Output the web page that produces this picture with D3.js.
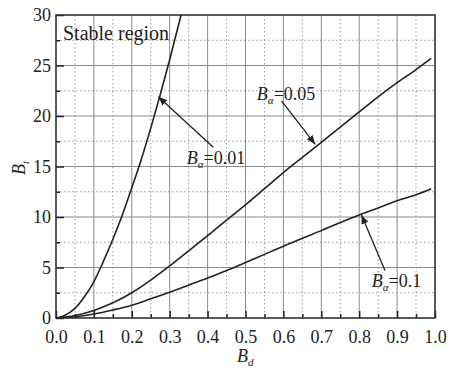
<!DOCTYPE html>
<html>
<head>
<meta charset="utf-8">
<script src="https://cdn.jsdelivr.net/npm/d3@7"></script>
<style>
  body { margin: 0; background: #fff; }
  svg text { font-family: "Liberation Serif", "Times New Roman", serif; fill: #222; }
</style>
</head>
<body>
<div id="chart"></div>
<script>
// B_d values and B_t curves
var bdA = [0, 0.02, 0.05, 0.075, 0.1, 0.125, 0.15, 0.175, 0.2, 0.225, 0.25, 0.275, 0.3, 0.33];
var btA = [0, 0.2, 0.95, 2.1, 3.6, 5.6, 7.8, 10.2, 12.9, 15.7, 18.8, 22.1, 25.6, 30];   // Ba = 0.01

var bdB = [0, 0.05, 0.1, 0.15, 0.2, 0.25, 0.3, 0.35, 0.4, 0.45, 0.5, 0.55, 0.6, 0.65, 0.7, 0.75, 0.8, 0.85, 0.9, 0.95, 0.99];
var btB = [0, 0.25, 0.75, 1.5, 2.5, 3.75, 5.15, 6.65, 8.15, 9.7, 11.2, 12.8, 14.4, 15.9, 17.4, 18.9, 20.4, 21.9, 23.3, 24.6, 25.7]; // Ba = 0.05

var bdC = bdB;
var btC = [0, 0.12, 0.4, 0.8, 1.27, 1.9, 2.55, 3.25, 3.95, 4.7, 5.5, 6.3, 7.1, 7.9, 8.65, 9.45, 10.2, 10.9, 11.6, 12.2, 12.8]; // Ba = 0.1

var xTicks = [0, 0.1, 0.2, 0.3, 0.4, 0.5, 0.6, 0.7, 0.8, 0.9, 1.0];
var yTicks = [0, 5, 10, 15, 20, 25, 30];

// annotation: label value, label anchor, arrow tail and tip (data units)
var notes = [
  {val: "=0.01", lx: 0.345, ly: 15.2, tail: [0.415, 16.9], tip: [0.270, 21.9]},
  {val: "=0.05", lx: 0.53,  ly: 21.6, tail: [0.595, 21.5], tip: [0.684, 17.2]},
  {val: "=0.1",  lx: 0.833, ly: 3.1,  tail: [0.868, 4.7],  tip: [0.806, 10.2]}
];

var margin = {top: 15, right: 14, bottom: 52, left: 56},
    width = 449 - margin.left - margin.right,
    height = 370 - margin.top - margin.bottom;

var svg = d3.select("#chart")
  .append("svg")
    .attr("width", 449)
    .attr("height", 370);

var g = svg.append("g")
    .attr("transform", `translate(${margin.left},${margin.top})`);

var x = d3.scaleLinear().domain([0, 1]).range([0, width]);
var y = d3.scaleLinear().domain([0, 30]).range([height, 0]);

var defs = svg.append("defs");
defs.append("marker")
    .attr("id", "arrow")
    .attr("viewBox", "0 0 10 10")
    .attr("refX", 10).attr("refY", 5)
    .attr("markerWidth", 9).attr("markerHeight", 9)
    .attr("markerUnits", "userSpaceOnUse")
    .attr("orient", "auto")
  .append("path")
    .attr("d", "M0,1 L10,5 L0,9 Z")
    .attr("fill", "#222");

// minor grid (dotted)
var xMinor = d3.range(0.05, 1, 0.1);
var yMinor = d3.range(2.5, 30, 5);
g.selectAll(".xminor").data(xMinor).enter().append("line")
    .attr("x1", d => x(d)).attr("x2", d => x(d))
    .attr("y1", 0).attr("y2", height)
    .attr("stroke", "#999").attr("stroke-width", 1).attr("stroke-dasharray", "1.5,2.5");
g.selectAll(".yminor").data(yMinor).enter().append("line")
    .attr("x1", 0).attr("x2", width)
    .attr("y1", d => y(d)).attr("y2", d => y(d))
    .attr("stroke", "#999").attr("stroke-width", 1).attr("stroke-dasharray", "1.5,2.5");

// major grid (solid)
g.selectAll(".xmajor").data(xTicks.slice(1, -1)).enter().append("line")
    .attr("x1", d => x(d)).attr("x2", d => x(d))
    .attr("y1", 0).attr("y2", height)
    .attr("stroke", "#8a8a8a").attr("stroke-width", 1);
g.selectAll(".ymajor").data(yTicks.slice(1, -1)).enter().append("line")
    .attr("x1", 0).attr("x2", width)
    .attr("y1", d => y(d)).attr("y2", d => y(d))
    .attr("stroke", "#8a8a8a").attr("stroke-width", 1);

// axes with inward ticks
var xAxis = g.append("g")
    .attr("transform", `translate(0,${height})`)
    .call(d3.axisBottom(x).tickValues(xTicks).tickSize(-7).tickPadding(14).tickFormat(d3.format(".1f")));
var yAxis = g.append("g")
    .call(d3.axisLeft(y).tickValues(yTicks).tickSize(-8).tickPadding(5).tickFormat(d3.format("d")));
g.append("g")
    .attr("transform", `translate(0,${height})`)
    .call(d3.axisBottom(x).tickValues(xMinor).tickSize(-4).tickFormat(""));
g.append("g")
    .call(d3.axisLeft(y).tickValues(yMinor).tickSize(-4).tickFormat(""));

g.selectAll(".domain").remove();
g.selectAll(".tick line").attr("stroke", "#222").attr("stroke-width", 1.5);
xAxis.selectAll("text").style("font-size", "18px").attr("fill", "#222");
yAxis.selectAll("text").style("font-size", "18px").attr("fill", "#222");
xAxis.selectAll(".tick text").attr("dy", "0.6em");

// frame
g.append("rect")
    .attr("width", width).attr("height", height)
    .attr("fill", "none").attr("stroke", "#333").attr("stroke-width", 1.6);

// curves
defs.append("clipPath").attr("id", "plotclip")
  .append("rect").attr("width", width).attr("height", height);

var line = d3.line()
    .x(d => x(d[0]))
    .y(d => y(d[1]))
    .curve(d3.curveMonotoneX);

[[bdA, btA], [bdB, btB], [bdC, btC]].forEach(function(s) {
  g.append("path")
      .datum(d3.zip(s[0], s[1]))
      .attr("clip-path", "url(#plotclip)")
      .attr("fill", "none")
      .attr("stroke", "#222")
      .attr("stroke-width", 1.6)
      .attr("d", line);
});

// arrows and labels
notes.forEach(function(n) {
  g.append("line")
      .attr("x1", x(n.tail[0])).attr("y1", y(n.tail[1]))
      .attr("x2", x(n.tip[0])).attr("y2", y(n.tip[1]))
      .attr("stroke", "#222").attr("stroke-width", 1.3)
      .attr("marker-end", "url(#arrow)");
  var t = g.append("text")
      .attr("x", x(n.lx)).attr("y", y(n.ly))
      .style("font-size", "18px");
  t.append("tspan").style("font-style", "italic").text("B");
  t.append("tspan").style("font-style", "italic").style("font-size", "11px").attr("dy", 4).text("α");
  t.append("tspan").attr("dy", -4).text(n.val);
});

g.append("text")
    .attr("x", 7).attr("y", 25)
    .style("font-size", "20px")
    .text("Stable region");

// axis titles
var xt = svg.append("text")
    .attr("x", 237).attr("y", 362)
    .style("font-size", "18px");
xt.append("tspan").style("font-style", "italic").text("B");
xt.append("tspan").style("font-style", "italic").style("font-size", "11px").attr("dy", 4).text("d");

var yt = svg.append("text")
    .attr("transform", "translate(25,175) rotate(-90)")
    .style("font-size", "18px");
yt.append("tspan").style("font-style", "italic").text("B");
yt.append("tspan").style("font-style", "italic").style("font-size", "11px").attr("dy", 4).text("t");
</script>
</body>
</html>
